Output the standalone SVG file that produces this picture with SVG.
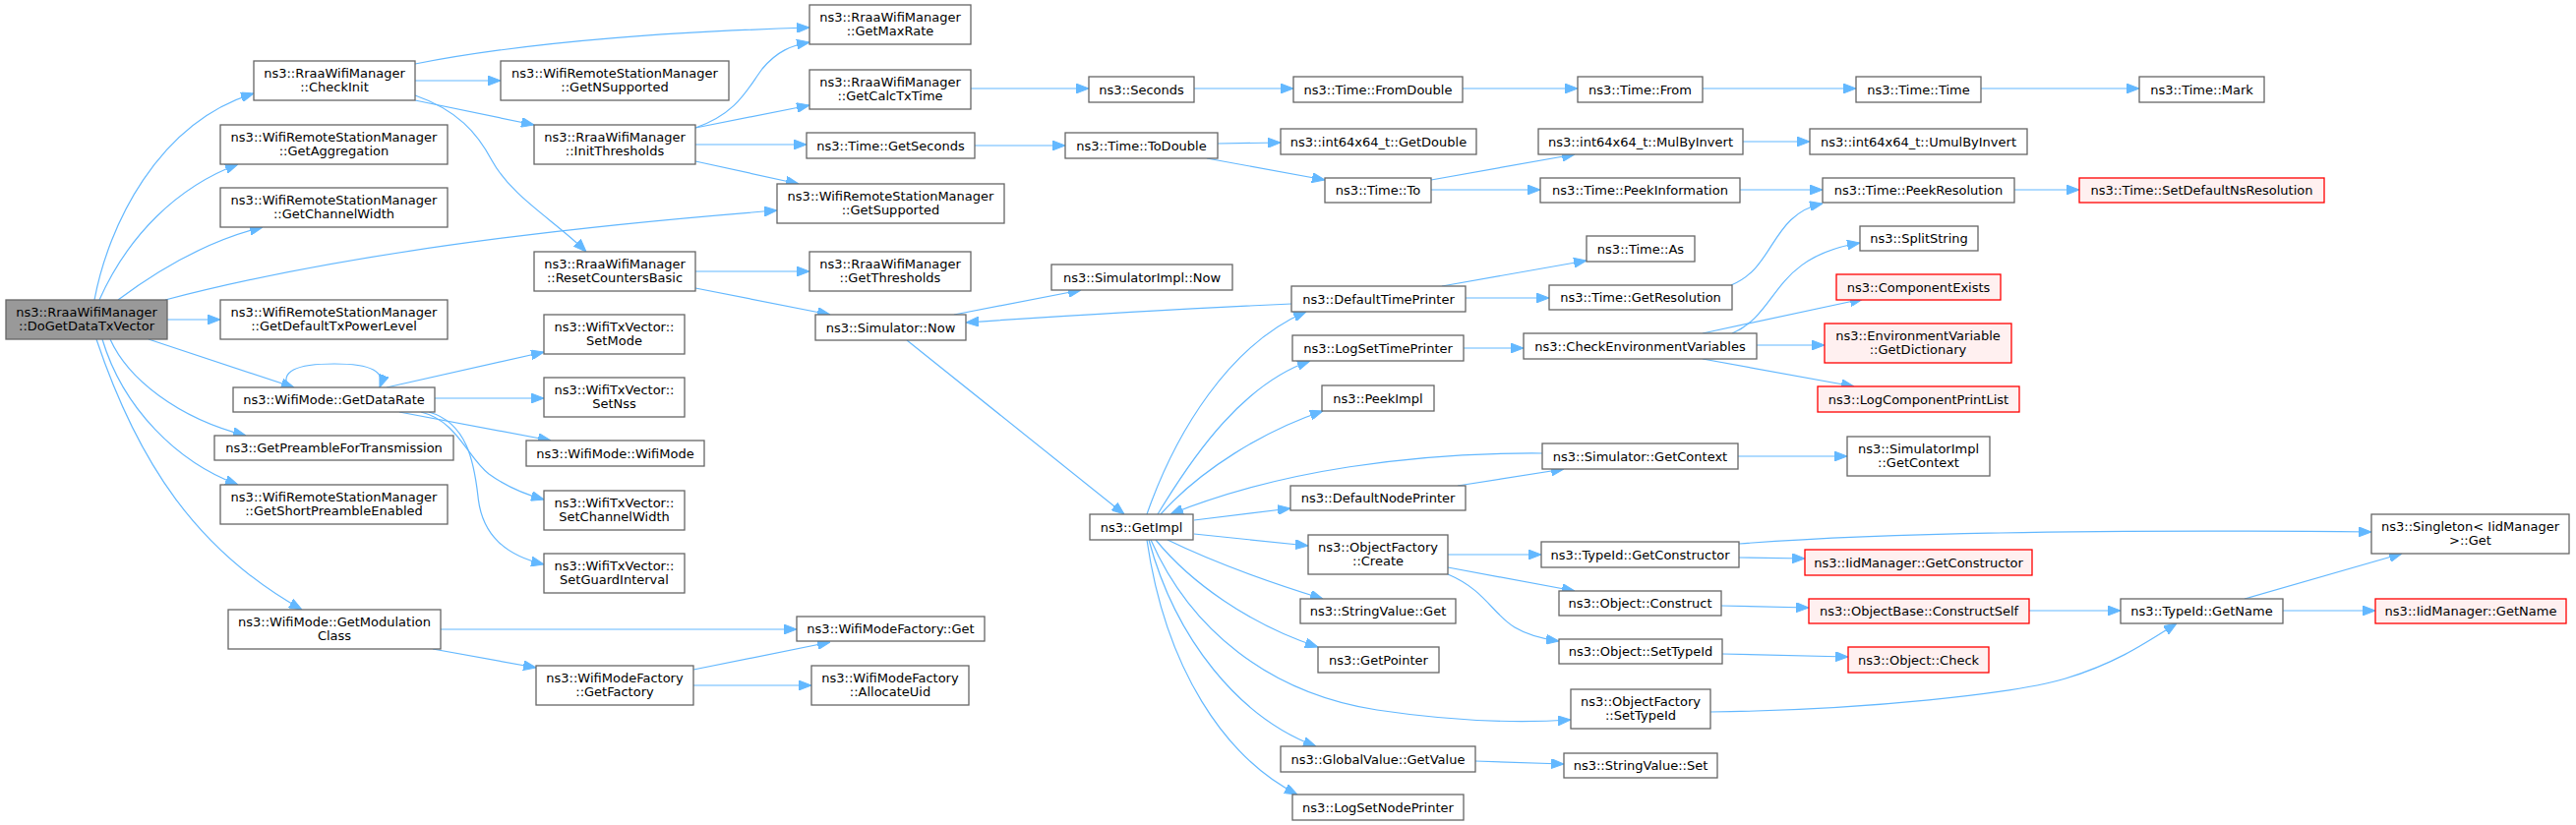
<svg xmlns="http://www.w3.org/2000/svg" width="2619" height="839" viewBox="0 0 2619 839">
<style>
.n rect{fill:#ffffff;stroke:#666666;stroke-width:1.3}
.r rect{fill:#fff0f0;stroke:#ff0000;stroke-width:1.3}
.root rect{fill:#999999;stroke:#666666;stroke-width:1.3}
text{font-family:"DejaVu Sans","Liberation Sans",sans-serif;font-size:13px;text-anchor:middle;fill:#000000}
#edges path{fill:none;stroke:#63b8ff;stroke-width:1.2;marker-end:url(#ah)}
</style>
<defs>
<marker id="ah" markerWidth="13" markerHeight="10" refX="13" refY="5" orient="auto" markerUnits="userSpaceOnUse"><path d="M0,0 L13,5 L0,10 z" fill="#63b8ff" stroke="#63b8ff" stroke-width="1"/></marker>
</defs>
<rect width="2619" height="839" fill="#ffffff"/>
<g id="edges">
<path d="M96,305 C110,230 160,125 258,95"/>
<path d="M101,305 C130,240 180,190 242,167"/>
<path d="M120,305 C160,275 210,245 267,231"/>
<path d="M168,305 C320,265 520,235 790,214"/>
<path d="M170,325 L224,325"/>
<path d="M151,345 L299,394"/>
<path d="M112,345 C130,385 180,425 250,443"/>
<path d="M104,345 C125,415 180,470 242,493"/>
<path d="M98,345 C140,470 200,560 307,620"/>
<path d="M422,65 C550,40 700,32 823,28"/>
<path d="M422,82 L509,82"/>
<path d="M422,102 L543,127"/>
<path d="M422,97 C465,112 485,135 500,163 C520,200 565,225 596,256"/>
<path d="M707,130 C750,115 760,90 775,70 C790,52 805,46 823,43"/>
<path d="M707,130 L823,107"/>
<path d="M707,147 L820,147"/>
<path d="M707,164 L812,187"/>
<path d="M987,90 L1107,90"/>
<path d="M1214,90 L1315,90"/>
<path d="M1487,90 L1604,90"/>
<path d="M1731,90 L1887,90"/>
<path d="M2014,90 L2175,90"/>
<path d="M991,148 L1083,148"/>
<path d="M1238,146 L1302,145"/>
<path d="M1227,161 L1347,183"/>
<path d="M1455,183 L1601,157"/>
<path d="M1455,193 L1566,193"/>
<path d="M1772,144 L1840,144"/>
<path d="M1769,193 L1853,193"/>
<path d="M2048,193 L2114,193"/>
<path d="M707,276 L823,276"/>
<path d="M707,293 L844,320"/>
<path d="M970,320 L1099,295"/>
<path d="M922,346 L1143,523"/>
<path d="M1313,309 C1200,314 1100,320 982,328"/>
<path d="M1166,523 C1195,440 1250,350 1328,317"/>
<path d="M1177,523 C1215,460 1265,390 1332,367"/>
<path d="M1180,523 C1220,478 1285,438 1345,418"/>
<path d="M1568,461 C1440,460 1300,478 1190,523"/>
<path d="M1214,529 L1312,517"/>
<path d="M1214,543 L1330,555"/>
<path d="M1187,549 C1230,570 1290,592 1345,609"/>
<path d="M1175,549 C1210,592 1270,635 1340,658"/>
<path d="M1170,549 C1210,640 1290,705 1400,722 C1480,734 1550,735 1597,732"/>
<path d="M1168,549 C1195,650 1260,730 1338,759"/>
<path d="M1166,549 C1185,680 1245,770 1319,808"/>
<path d="M1466,291 L1613,265"/>
<path d="M1490,303 L1575,303"/>
<path d="M1760,290 C1805,272 1800,218 1853,207"/>
<path d="M1488,354 L1549,354"/>
<path d="M1761,339 C1810,318 1800,262 1891,247"/>
<path d="M1731,339 L1894,304"/>
<path d="M1786,351 L1855,351"/>
<path d="M1731,365 L1885,393"/>
<path d="M1767,464 L1878,464"/>
<path d="M1482,494 L1590,477"/>
<path d="M1472,564 L1567,564"/>
<path d="M1472,577 L1601,601"/>
<path d="M1472,584 C1510,600 1518,625 1540,638 C1555,647 1570,650 1585,652"/>
<path d="M1768,553 C1900,543 2100,538 2411,541"/>
<path d="M1768,567 L1835,568"/>
<path d="M1750,616 L1839,618"/>
<path d="M1751,665 L1879,668"/>
<path d="M1739,724 C1900,722 2050,705 2100,690 C2150,675 2180,655 2213,634"/>
<path d="M2063,621 L2156,621"/>
<path d="M2282,609 L2442,563"/>
<path d="M2321,621 L2415,621"/>
<path d="M1500,774 L1590,777"/>
<path d="M293,394 C285,378 300,370 340,370 C378,370 392,378 386,394"/>
<path d="M393,394 L553,358"/>
<path d="M442,405 L553,405"/>
<path d="M406,419 L560,448"/>
<path d="M428,419 C465,428 475,465 497,482 C515,495 535,503 553,508"/>
<path d="M436,419 C475,430 482,470 486,505 C490,545 515,565 553,574"/>
<path d="M448,640 L810,640"/>
<path d="M440,660 L545,679"/>
<path d="M705,681 L844,653"/>
<path d="M705,697 L825,697"/>
</g>
<g id="root" class="root"><rect x="6" y="305" width="164" height="40"/><text x="88" y="322">ns3::RraaWifiManager</text><text x="88" y="336">::DoGetDataTxVector</text></g>
<g id="checkinit" class="n"><rect x="258" y="62" width="164" height="40"/><text x="340" y="79">ns3::RraaWifiManager</text><text x="340" y="93">::CheckInit</text></g>
<g id="getnsupported" class="n"><rect x="509" y="62" width="232" height="40"/><text x="625" y="79">ns3::WifiRemoteStationManager</text><text x="625" y="93">::GetNSupported</text></g>
<g id="getaggregation" class="n"><rect x="224" y="127" width="231" height="40"/><text x="339.5" y="144">ns3::WifiRemoteStationManager</text><text x="339.5" y="158">::GetAggregation</text></g>
<g id="initthresholds" class="n"><rect x="543" y="127" width="164" height="40"/><text x="625" y="144">ns3::RraaWifiManager</text><text x="625" y="158">::InitThresholds</text></g>
<g id="getchannelwidth" class="n"><rect x="224" y="191" width="231" height="40"/><text x="339.5" y="208">ns3::WifiRemoteStationManager</text><text x="339.5" y="222">::GetChannelWidth</text></g>
<g id="resetcounters" class="n"><rect x="543" y="256" width="164" height="40"/><text x="625" y="273">ns3::RraaWifiManager</text><text x="625" y="287">::ResetCountersBasic</text></g>
<g id="getdefaulttx" class="n"><rect x="224" y="305" width="231" height="40"/><text x="339.5" y="322">ns3::WifiRemoteStationManager</text><text x="339.5" y="336">::GetDefaultTxPowerLevel</text></g>
<g id="setmode" class="n"><rect x="553" y="320" width="143" height="40"/><text x="624.5" y="337">ns3::WifiTxVector::</text><text x="624.5" y="351">SetMode</text></g>
<g id="getdatarate" class="n"><rect x="237" y="394" width="205" height="25"/><text x="339.5" y="411">ns3::WifiMode::GetDataRate</text></g>
<g id="setnss" class="n"><rect x="553" y="384" width="143" height="40"/><text x="624.5" y="401">ns3::WifiTxVector::</text><text x="624.5" y="415">SetNss</text></g>
<g id="getpreamble" class="n"><rect x="218" y="443" width="243" height="25"/><text x="339.5" y="460">ns3::GetPreambleForTransmission</text></g>
<g id="wifimode" class="n"><rect x="535" y="448" width="181" height="26"/><text x="625.5" y="465.6">ns3::WifiMode::WifiMode</text></g>
<g id="getshortpreamble" class="n"><rect x="224" y="493" width="231" height="40"/><text x="339.5" y="510">ns3::WifiRemoteStationManager</text><text x="339.5" y="524">::GetShortPreambleEnabled</text></g>
<g id="setchannelwidth" class="n"><rect x="553" y="499" width="143" height="40"/><text x="624.5" y="516">ns3::WifiTxVector::</text><text x="624.5" y="530">SetChannelWidth</text></g>
<g id="setguard" class="n"><rect x="553" y="563" width="143" height="40"/><text x="624.5" y="580">ns3::WifiTxVector::</text><text x="624.5" y="594">SetGuardInterval</text></g>
<g id="getmodulation" class="n"><rect x="232" y="620" width="216" height="40"/><text x="340" y="637">ns3::WifiMode::GetModulation</text><text x="340" y="651">Class</text></g>
<g id="getfactory" class="n"><rect x="545" y="677" width="160" height="40"/><text x="625" y="694">ns3::WifiModeFactory</text><text x="625" y="708">::GetFactory</text></g>
<g id="getmaxrate" class="n"><rect x="823" y="5" width="164" height="40"/><text x="905" y="22">ns3::RraaWifiManager</text><text x="905" y="36">::GetMaxRate</text></g>
<g id="getcalctx" class="n"><rect x="823" y="71" width="164" height="40"/><text x="905" y="88">ns3::RraaWifiManager</text><text x="905" y="102">::GetCalcTxTime</text></g>
<g id="seconds" class="n"><rect x="1107" y="78" width="107" height="26"/><text x="1160.5" y="95.6">ns3::Seconds</text></g>
<g id="timegetseconds" class="n"><rect x="820" y="135" width="171" height="26"/><text x="905.5" y="152.6">ns3::Time::GetSeconds</text></g>
<g id="todouble" class="n"><rect x="1083" y="135" width="155" height="26"/><text x="1160.5" y="152.6">ns3::Time::ToDouble</text></g>
<g id="getsupported" class="n"><rect x="790" y="187" width="231" height="40"/><text x="905.5" y="204">ns3::WifiRemoteStationManager</text><text x="905.5" y="218">::GetSupported</text></g>
<g id="getthresholds" class="n"><rect x="823" y="256" width="164" height="40"/><text x="905" y="273">ns3::RraaWifiManager</text><text x="905" y="287">::GetThresholds</text></g>
<g id="simimplnow" class="n"><rect x="1069" y="269" width="184" height="26"/><text x="1161" y="286.6">ns3::SimulatorImpl::Now</text></g>
<g id="simnow" class="n"><rect x="829" y="320" width="153" height="26"/><text x="905.5" y="337.6">ns3::Simulator::Now</text></g>
<g id="getimpl" class="n"><rect x="1108" y="523" width="105" height="26"/><text x="1160.5" y="540.6">ns3::GetImpl</text></g>
<g id="wmfget" class="n"><rect x="810" y="627" width="191" height="25"/><text x="905.5" y="644">ns3::WifiModeFactory::Get</text></g>
<g id="allocuid" class="n"><rect x="825" y="677" width="160" height="40"/><text x="905" y="694">ns3::WifiModeFactory</text><text x="905" y="708">::AllocateUid</text></g>
<g id="fromdouble" class="n"><rect x="1315" y="78" width="172" height="26"/><text x="1401" y="95.6">ns3::Time::FromDouble</text></g>
<g id="from" class="n"><rect x="1604" y="78" width="127" height="26"/><text x="1667.5" y="95.6">ns3::Time::From</text></g>
<g id="timetime" class="n"><rect x="1887" y="78" width="127" height="26"/><text x="1950.5" y="95.6">ns3::Time::Time</text></g>
<g id="mark" class="n"><rect x="2175" y="78" width="127" height="26"/><text x="2238.5" y="95.6">ns3::Time::Mark</text></g>
<g id="getdouble" class="n"><rect x="1302" y="131" width="199" height="26"/><text x="1401.5" y="148.6">ns3::int64x64_t::GetDouble</text></g>
<g id="mulbyinvert" class="n"><rect x="1564" y="131" width="208" height="26"/><text x="1668" y="148.6">ns3::int64x64_t::MulByInvert</text></g>
<g id="umulbyinvert" class="n"><rect x="1840" y="131" width="221" height="26"/><text x="1950.5" y="148.6">ns3::int64x64_t::UmulByInvert</text></g>
<g id="timeto" class="n"><rect x="1347" y="181" width="108" height="25"/><text x="1401" y="198">ns3::Time::To</text></g>
<g id="peekinfo" class="n"><rect x="1566" y="181" width="203" height="25"/><text x="1667.5" y="198">ns3::Time::PeekInformation</text></g>
<g id="peekres" class="n"><rect x="1853" y="181" width="195" height="25"/><text x="1950.5" y="198">ns3::Time::PeekResolution</text></g>
<g id="setdefaultns" class="r"><rect x="2114" y="181" width="249" height="25"/><text x="2238.5" y="198">ns3::Time::SetDefaultNsResolution</text></g>
<g id="timeas" class="n"><rect x="1613" y="240" width="110" height="26"/><text x="1668" y="257.6">ns3::Time::As</text></g>
<g id="splitstring" class="n"><rect x="1891" y="230" width="120" height="25"/><text x="1951" y="247">ns3::SplitString</text></g>
<g id="defaulttimeprinter" class="n"><rect x="1313" y="291" width="177" height="26"/><text x="1401.5" y="308.6">ns3::DefaultTimePrinter</text></g>
<g id="getresolution" class="n"><rect x="1575" y="290" width="186" height="25"/><text x="1668" y="307">ns3::Time::GetResolution</text></g>
<g id="componentexists" class="r"><rect x="1867" y="279" width="167" height="26"/><text x="1950.5" y="296.6">ns3::ComponentExists</text></g>
<g id="logsettimeprinter" class="n"><rect x="1314" y="341" width="174" height="26"/><text x="1401" y="358.6">ns3::LogSetTimePrinter</text></g>
<g id="checkenv" class="n"><rect x="1549" y="339" width="237" height="26"/><text x="1667.5" y="356.6">ns3::CheckEnvironmentVariables</text></g>
<g id="getdictionary" class="r"><rect x="1855" y="329" width="190" height="40"/><text x="1950" y="346">ns3::EnvironmentVariable</text><text x="1950" y="360">::GetDictionary</text></g>
<g id="peekimpl" class="n"><rect x="1344" y="392" width="114" height="26"/><text x="1401" y="409.6">ns3::PeekImpl</text></g>
<g id="logcomponentprintlist" class="r"><rect x="1848" y="393" width="205" height="26"/><text x="1950.5" y="410.6">ns3::LogComponentPrintList</text></g>
<g id="simgetcontext" class="n"><rect x="1568" y="451" width="199" height="26"/><text x="1667.5" y="468.6">ns3::Simulator::GetContext</text></g>
<g id="simimplgetcontext" class="n"><rect x="1878" y="444" width="145" height="40"/><text x="1950.5" y="461">ns3::SimulatorImpl</text><text x="1950.5" y="475">::GetContext</text></g>
<g id="defaultnodeprinter" class="n"><rect x="1312" y="494" width="178" height="25"/><text x="1401" y="511">ns3::DefaultNodePrinter</text></g>
<g id="ofcreate" class="n"><rect x="1330" y="544" width="142" height="40"/><text x="1401" y="561">ns3::ObjectFactory</text><text x="1401" y="575">::Create</text></g>
<g id="getconstructor" class="n"><rect x="1567" y="551" width="201" height="26"/><text x="1667.5" y="568.6">ns3::TypeId::GetConstructor</text></g>
<g id="iidgetconstructor" class="r"><rect x="1835" y="559" width="231" height="26"/><text x="1950.5" y="576.6">ns3::IidManager::GetConstructor</text></g>
<g id="stringvalueget" class="n"><rect x="1322" y="609" width="158" height="25"/><text x="1401" y="626">ns3::StringValue::Get</text></g>
<g id="objconstruct" class="n"><rect x="1585" y="601" width="165" height="25"/><text x="1667.5" y="618">ns3::Object::Construct</text></g>
<g id="constructself" class="r"><rect x="1839" y="609" width="224" height="25"/><text x="1951" y="626">ns3::ObjectBase::ConstructSelf</text></g>
<g id="getpointer" class="n"><rect x="1340" y="658" width="123" height="26"/><text x="1401.5" y="675.6">ns3::GetPointer</text></g>
<g id="objsettypeid" class="n"><rect x="1585" y="650" width="166" height="25"/><text x="1668" y="667">ns3::Object::SetTypeId</text></g>
<g id="objcheck" class="r"><rect x="1879" y="658" width="143" height="26"/><text x="1950.5" y="675.6">ns3::Object::Check</text></g>
<g id="ofsettypeid" class="n"><rect x="1597" y="701" width="142" height="40"/><text x="1668" y="718">ns3::ObjectFactory</text><text x="1668" y="732">::SetTypeId</text></g>
<g id="globalgetvalue" class="n"><rect x="1302" y="759" width="198" height="26"/><text x="1401" y="776.6">ns3::GlobalValue::GetValue</text></g>
<g id="stringvalueset" class="n"><rect x="1590" y="766" width="156" height="25"/><text x="1668" y="783">ns3::StringValue::Set</text></g>
<g id="logsetnodeprinter" class="n"><rect x="1314" y="808" width="174" height="26"/><text x="1401" y="825.6">ns3::LogSetNodePrinter</text></g>
<g id="singleton" class="n"><rect x="2411" y="523" width="201" height="40"/><text x="2511.5" y="540">ns3::Singleton&lt; IidManager</text><text x="2511.5" y="554">&gt;::Get</text></g>
<g id="typeidgetname" class="n"><rect x="2156" y="609" width="165" height="25"/><text x="2238.5" y="626">ns3::TypeId::GetName</text></g>
<g id="iidgetname" class="r"><rect x="2415" y="609" width="194" height="25"/><text x="2512" y="626">ns3::IidManager::GetName</text></g>
</svg>
